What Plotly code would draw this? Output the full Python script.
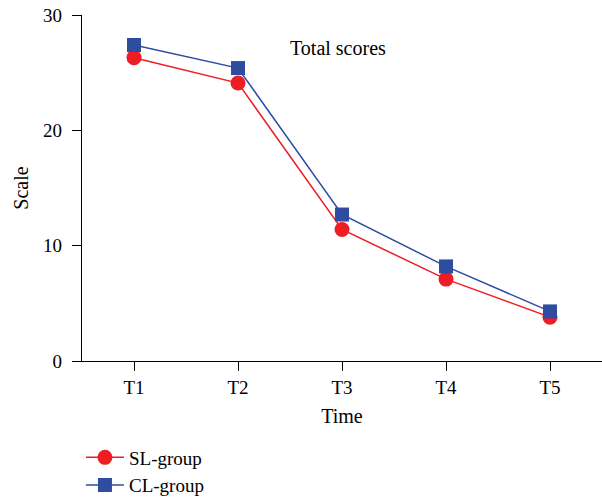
import plotly.graph_objects as go

categories = ["T1", "T2", "T3", "T4", "T5"]
sl_group = [26.3, 24.1, 11.4, 7.1, 3.8]
cl_group = [27.4, 25.4, 12.7, 8.2, 4.3]
y_ticks = [0, 10, 20, 30]

FONT = "Liberation Serif"
RED = "#EE1C25"
BLUE = "#2E4DA0"
FS = 20
TFS = 19

fig = go.Figure()
fig.add_trace(go.Scatter(
    x=categories, y=sl_group, name="SL-group", mode="lines+markers",
    line=dict(color=RED, width=1.5),
    marker=dict(symbol="circle", size=15, color=RED),
))
fig.add_trace(go.Scatter(
    x=categories, y=cl_group, name="CL-group", mode="lines+markers",
    line=dict(color=BLUE, width=1.5),
    marker=dict(symbol="square", size=14, color=BLUE),
))

fig.update_layout(
    width=602, height=500,
    margin=dict(l=82, r=0, t=15, b=139, autoexpand=False),
    paper_bgcolor="white", plot_bgcolor="white",
    font=dict(family=FONT, size=FS, color="black"),
    showlegend=True,
    legend=dict(
        orientation="v", x=-0.002, y=0.123, xref="paper", yref="container",
        xanchor="left", yanchor="top",
        font=dict(family=FONT, size=19, color="black"),
        tracegroupgap=0, itemwidth=38, bgcolor="rgba(0,0,0,0)",
    ),
    annotations=[dict(
        text="Total scores", x=0.492, y=0.905, xref="paper", yref="paper",
        showarrow=False, font=dict(family=FONT, size=FS, color="black"),
        xanchor="center", yanchor="middle",
    )],
)

fig.update_xaxes(
    type="category", range=[-0.5, 4.5], automargin=False,
    showline=True, linecolor="black", linewidth=1.3,
    ticks="outside", ticklen=9, tickwidth=1.3, tickcolor="black",
    showgrid=False, zeroline=False, ticklabelstandoff=0,
    title=dict(text="Time", font=dict(family=FONT, size=FS), standoff=12),
    tickfont=dict(family=FONT, size=TFS),
)
fig.update_yaxes(
    range=[0, 30], tickvals=y_ticks, automargin=False,
    showline=True, linecolor="black", linewidth=1.3,
    ticks="outside", ticklen=9, tickwidth=1.3, tickcolor="black",
    showgrid=False, zeroline=False, ticklabelstandoff=6,
    title=dict(text="Scale", font=dict(family=FONT, size=FS), standoff=9),
    tickfont=dict(family=FONT, size=TFS),
)

fig.write_html(
    "out.html",
    config={"displayModeBar": False},
    post_script="document.body.style.margin='0px';",
)
